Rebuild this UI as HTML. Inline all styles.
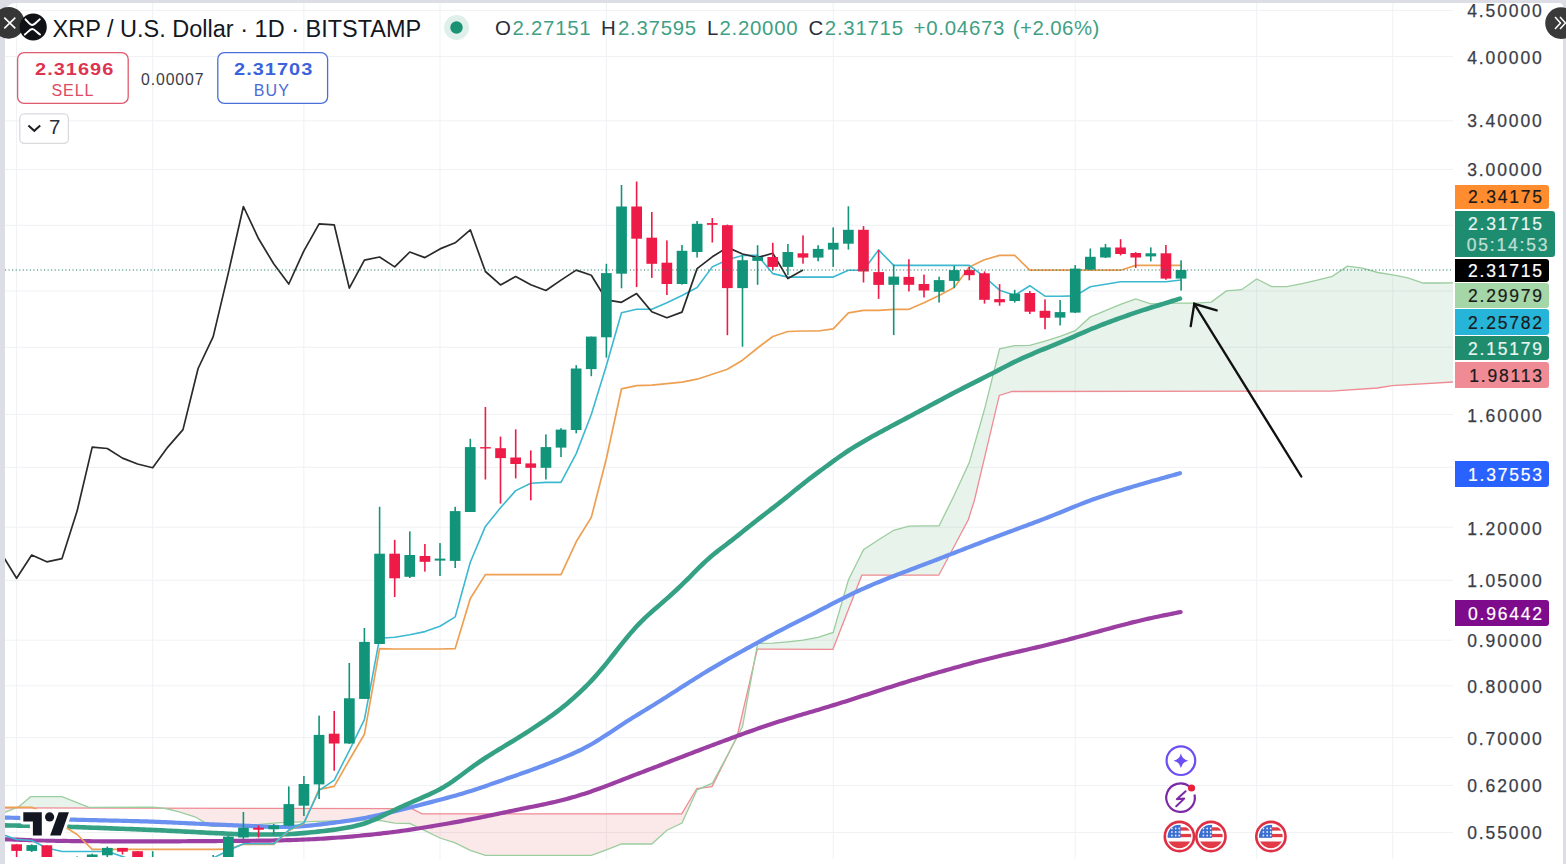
<!DOCTYPE html>
<html><head><meta charset="utf-8"><style>
html,body{margin:0;padding:0}
body{width:1566px;height:864px;overflow:hidden;background:#dddde6;position:relative;font-family:"Liberation Sans",sans-serif}
#panel{position:absolute;left:5px;top:3px;width:1558px;height:861px;background:#fff;border-radius:10px 4px 0 0}
.ax{position:absolute;right:24.2px;width:120px;text-align:right;font-size:17.5px;letter-spacing:1.9px;color:#3b3e47;line-height:20px;margin-right:-1.9px;-webkit-text-stroke:0.25px #3b3e47}
.tag{position:absolute;left:1454.5px;border-radius:0 3px 3px 0}
.tl{position:absolute;right:7px;font-size:17.5px;letter-spacing:1.8px;line-height:20px;margin-right:-1.8px;-webkit-text-stroke:0.2px currentColor}
.t{position:absolute;white-space:pre;line-height:1}
.g{color:#3f9f84}
</style></head><body>
<div id="panel"></div>
<svg width="1566" height="864" style="position:absolute;left:0;top:0">
<defs><clipPath id="cl"><rect x="5" y="3" width="1448" height="854"/></clipPath></defs>
<g stroke="#eff1f4" stroke-width="1"><line x1="5" x2="1453" y1="10.4" y2="10.4"/><line x1="5" x2="1453" y1="56.5" y2="56.5"/><line x1="5" x2="1453" y1="120.8" y2="120.8"/><line x1="5" x2="1453" y1="169.5" y2="169.5"/><line x1="5" x2="1453" y1="225.3" y2="225.3"/><line x1="5" x2="1453" y1="291" y2="291"/><line x1="5" x2="1453" y1="347.3" y2="347.3"/><line x1="5" x2="1453" y1="414.4" y2="414.4"/><line x1="5" x2="1453" y1="467.3" y2="467.3"/><line x1="5" x2="1453" y1="527.2" y2="527.2"/><line x1="5" x2="1453" y1="580.3" y2="580.3"/><line x1="5" x2="1453" y1="640.2" y2="640.2"/><line x1="5" x2="1453" y1="685.8" y2="685.8"/><line x1="5" x2="1453" y1="737.6" y2="737.6"/><line x1="5" x2="1453" y1="785.5" y2="785.5"/><line x1="5" x2="1453" y1="832.5" y2="832.5"/><line x1="16.6" x2="16.6" y1="3" y2="859"/><line x1="152.7" x2="152.7" y1="3" y2="859"/><line x1="303.9" x2="303.9" y1="3" y2="859"/><line x1="440.0" x2="440.0" y1="3" y2="859"/><line x1="606.4" x2="606.4" y1="3" y2="859"/><line x1="833.2" x2="833.2" y1="3" y2="859"/><line x1="1075.2" x2="1075.2" y1="3" y2="859"/><line x1="1256.7" x2="1256.7" y1="3" y2="859"/><line x1="1392.8" x2="1392.8" y1="3" y2="859"/></g>
<g clip-path="url(#cl)">
<polygon points="0.0,812.4 4.6,812.4 16.1,807.8 16.1,807.8 4.6,807.8 0.0,807.8" fill="rgba(225,70,70,0.12)"/>
<polygon points="16.1,807.8 18.5,806.9 30.6,796.7 62.0,796.7 88.9,807.3 152.8,807.2 161.7,808.1 161.7,808.1 152.8,808.1 88.9,808.0 62.0,807.9 30.6,807.9 18.5,807.8 16.1,807.8" fill="rgba(67,160,90,0.12)"/>
<polygon points="161.7,808.1 165.5,808.5 178.3,811.7 194.9,816.8 203.9,821.9 211.5,826.4 240.0,826.0 280.5,822.6 340.0,820.7 379.6,820.4 394.7,823.1 409.8,823.5 411.7,824.4 422.0,829.3 424.9,830.6 440.0,838.0 455.2,842.9 470.3,850.4 485.4,855.4 500.5,855.4 515.7,855.4 530.8,855.4 545.9,855.4 561.0,855.4 576.1,855.4 591.3,855.4 606.4,849.8 621.5,844.0 636.6,844.0 651.8,844.0 666.9,830.2 681.7,823.3 682.0,823.2 696.8,790.5 697.1,789.8 701.5,787.9 701.5,787.9 697.1,788.5 696.8,788.5 682.0,813.3 681.7,813.8 666.9,813.8 651.8,813.8 636.6,813.8 621.5,813.8 606.4,813.8 591.3,813.8 576.1,813.8 561.0,813.8 545.9,813.8 530.8,813.8 515.7,813.8 500.5,813.8 485.4,813.8 470.3,813.8 455.2,813.8 440.0,813.8 424.9,813.8 422.0,813.8 411.7,808.6 409.8,808.6 394.7,808.6 379.6,808.5 340.0,808.5 280.5,808.3 240.0,808.3 211.5,808.2 203.9,808.2 194.9,808.2 178.3,808.1 165.5,808.1 161.7,808.1" fill="rgba(225,70,70,0.12)"/>
<polygon points="701.5,787.9 712.0,783.3 712.3,783.2 727.4,755.3 732.3,746.1 732.3,746.1 727.4,755.9 712.3,786.1 712.0,786.6 701.5,787.9" fill="rgba(67,160,90,0.12)"/>
<polygon points="732.3,746.1 737.1,737.1 742.5,726.9 753.9,663.7 753.9,663.7 742.5,713.2 737.1,736.5 732.3,746.1" fill="rgba(225,70,70,0.12)"/>
<polygon points="753.9,663.7 757.3,645.2 757.6,643.4 772.8,643.1 787.9,641.8 803.0,640.2 818.1,637.4 832.9,632.5 833.2,632.4 848.4,580.0 861.8,553.1 863.5,549.7 878.6,539.8 893.7,530.3 908.9,526.2 924.0,525.8 938.8,525.8 939.1,525.8 954.2,495.2 968.3,464.9 969.4,462.6 974.5,444.4 984.5,409.3 999.3,350.1 999.6,348.9 1012.2,346.1 1014.7,345.6 1029.8,345.4 1045.0,341.2 1060.1,336.4 1075.2,330.7 1090.3,316.9 1105.5,310.6 1120.6,304.3 1135.7,299.0 1150.8,303.8 1166.0,303.3 1181.1,303.1 1196.2,303.1 1211.3,302.1 1226.4,290.9 1241.6,289.7 1256.7,278.9 1271.8,286.7 1286.9,286.7 1302.0,283.7 1317.2,280.2 1331.1,276.6 1332.3,276.3 1347.4,266.1 1362.5,268.2 1377.4,272.4 1377.7,272.5 1392.2,274.8 1392.8,274.9 1407.9,277.9 1423.0,283.0 1438.2,283.0 1453.3,282.8 1468.4,278.4 1470.0,278.3 1470.0,381.0 1468.4,381.1 1453.3,382.0 1438.2,382.9 1423.0,383.8 1407.9,384.7 1392.8,385.6 1392.2,385.6 1377.7,388.0 1377.4,388.0 1362.5,389.0 1347.4,390.0 1332.3,391.0 1331.1,391.1 1317.2,391.1 1302.0,391.1 1286.9,391.2 1271.8,391.2 1256.7,391.2 1241.6,391.2 1226.4,391.2 1211.3,391.3 1196.2,391.3 1181.1,391.3 1166.0,391.3 1150.8,391.3 1135.7,391.3 1120.6,391.4 1105.5,391.4 1090.3,391.4 1075.2,391.4 1060.1,391.4 1045.0,391.5 1029.8,391.5 1014.7,391.5 1012.2,391.5 999.6,395.3 999.3,395.4 984.5,457.9 974.5,500.0 969.4,516.4 968.3,519.7 954.2,546.2 939.1,574.6 938.8,575.2 924.0,575.2 908.9,575.2 893.7,575.2 878.6,575.2 863.5,575.2 861.8,575.2 848.4,609.6 833.2,648.4 832.9,649.3 818.1,649.3 803.0,649.3 787.9,649.2 772.8,649.2 757.6,649.2 757.3,649.2 753.9,663.7" fill="rgba(67,160,90,0.12)"/>

<polyline points="0.0,807.8 411.7,808.6 422.0,813.8 681.7,813.8 696.8,788.5 712.0,786.6 737.1,736.5 757.3,649.2 832.9,649.3 861.8,575.2 938.8,575.2 968.3,519.7 974.5,500.0 999.3,395.4 1012.2,391.5 1331.1,391.1 1377.4,388.0 1392.2,385.6 1470.0,381.0" fill="none" stroke="#ef8b94" stroke-width="1.3"/>
<polyline points="4.6,812.4 18.5,806.9 30.6,796.7 62.0,796.7 88.9,807.3 152.8,807.2 165.5,808.5 178.3,811.7 194.9,816.8 203.9,821.9 211.5,826.4 240.0,826.0 280.5,822.6 340.0,820.7 379.6,820.4 394.7,823.1 409.8,823.5 424.9,830.6 440.0,838.0 455.2,842.9 470.3,850.4 485.4,855.4 500.5,855.4 515.7,855.4 530.8,855.4 545.9,855.4 561.0,855.4 576.2,855.4 591.3,855.4 606.4,849.8 621.5,844.0 636.6,844.0 651.8,844.0 666.9,830.2 682.0,823.1 697.1,789.8 712.3,783.2 727.4,755.3 742.5,726.9 757.6,643.4 772.8,643.1 787.9,641.8 803.0,640.2 818.1,637.4 833.2,632.4 848.4,580.0 863.5,549.7 878.6,539.8 893.7,530.3 908.9,526.2 924.0,525.8 939.1,525.8 954.2,495.2 969.3,462.6 984.5,409.3 999.6,348.9 1014.7,345.6 1029.8,345.4 1045.0,341.2 1060.1,336.4 1075.2,330.7 1090.3,316.9 1105.5,310.7 1120.6,304.3 1135.7,299.0 1150.8,303.8 1165.9,303.3 1181.1,303.1 1196.2,303.1 1211.3,302.1 1226.4,290.9 1241.6,289.7 1256.7,278.9 1271.8,286.7 1286.9,286.7 1302.1,283.7 1317.2,280.2 1332.3,276.3 1347.4,266.1 1362.5,268.2 1377.7,272.5 1392.8,274.9 1407.9,277.9 1423.0,283.0 1438.2,283.0 1453.3,282.8 1468.4,278.4 1483.5,277.2 1498.7,275.9 1513.8,273.5 1528.9,273.5 1544.0,273.5 1559.1,272.6" fill="none" stroke="#9bcd9e" stroke-width="1.3"/>
<path d="M5.6,839.30 L8.6,839.40 L11.6,839.50 L14.6,839.59 L17.6,839.69 L20.6,839.79 L23.6,839.88 L26.6,839.98 L29.6,840.07 L32.6,840.16 L35.6,840.25 L38.6,840.34 L41.6,840.42 L44.6,840.50 L47.6,840.58 L50.6,840.65 L53.6,840.72 L56.6,840.78 L59.6,840.84 L62.6,840.90 L65.6,840.95 L68.6,840.99 L71.6,841.03 L74.6,841.07 L77.6,841.10 L80.6,841.13 L83.6,841.16 L86.6,841.18 L89.6,841.21 L92.6,841.23 L95.6,841.24 L98.6,841.26 L101.6,841.28 L104.6,841.29 L107.6,841.31 L110.6,841.32 L113.6,841.33 L116.6,841.34 L119.6,841.35 L122.6,841.36 L125.6,841.37 L128.6,841.38 L131.6,841.39 L134.6,841.40 L137.6,841.40 L140.6,841.40 L143.6,841.40 L146.6,841.40 L149.6,841.40 L152.6,841.39 L155.6,841.39 L158.6,841.38 L161.6,841.37 L164.6,841.36 L167.6,841.34 L170.6,841.33 L173.6,841.31 L176.6,841.30 L179.6,841.28 L182.6,841.26 L185.6,841.24 L188.6,841.22 L191.6,841.20 L194.6,841.18 L197.6,841.16 L200.6,841.14 L203.6,841.12 L206.6,841.10 L209.6,841.07 L212.6,841.05 L215.6,841.03 L218.6,841.01 L221.6,840.99 L224.6,840.97 L227.6,840.95 L230.6,840.92 L233.6,840.90 L236.6,840.88 L239.6,840.86 L242.6,840.83 L245.6,840.81 L248.6,840.78 L251.6,840.76 L254.6,840.73 L257.6,840.70 L260.6,840.67 L263.6,840.63 L266.6,840.60 L269.6,840.55 L272.6,840.50 L275.6,840.45 L278.6,840.39 L281.6,840.33 L284.6,840.25 L287.6,840.17 L290.6,840.08 L293.6,839.99 L296.6,839.88 L299.6,839.77 L302.6,839.65 L305.6,839.51 L308.6,839.38 L311.6,839.23 L314.6,839.07 L317.6,838.91 L320.6,838.73 L323.6,838.55 L326.6,838.36 L329.6,838.16 L332.6,837.96 L335.6,837.74 L338.6,837.52 L341.6,837.29 L344.6,837.05 L347.6,836.81 L350.6,836.55 L353.6,836.29 L356.6,836.02 L359.6,835.74 L362.6,835.46 L365.6,835.16 L368.6,834.86 L371.6,834.55 L374.6,834.22 L377.6,833.89 L380.6,833.55 L383.6,833.20 L386.6,832.84 L389.6,832.48 L392.6,832.10 L395.6,831.71 L398.6,831.31 L401.6,830.90 L404.6,830.48 L407.6,830.06 L410.6,829.62 L413.6,829.17 L416.6,828.71 L419.6,828.25 L422.6,827.77 L425.6,827.29 L428.6,826.80 L431.6,826.31 L434.6,825.80 L437.6,825.30 L440.6,824.79 L443.6,824.27 L446.6,823.75 L449.6,823.22 L452.6,822.69 L455.6,822.15 L458.6,821.61 L461.6,821.06 L464.6,820.50 L467.6,819.93 L470.6,819.36 L473.6,818.78 L476.6,818.19 L479.6,817.59 L482.6,816.99 L485.6,816.37 L488.6,815.75 L491.6,815.13 L494.6,814.50 L497.6,813.87 L500.6,813.24 L503.6,812.60 L506.6,811.97 L509.6,811.35 L512.6,810.72 L515.6,810.10 L518.6,809.48 L521.6,808.87 L524.6,808.26 L527.6,807.66 L530.6,807.05 L533.6,806.44 L536.6,805.83 L539.6,805.21 L542.6,804.59 L545.6,803.95 L548.6,803.30 L551.6,802.63 L554.6,801.94 L557.6,801.23 L560.6,800.49 L563.6,799.73 L566.6,798.95 L569.6,798.13 L572.6,797.29 L575.6,796.42 L578.6,795.52 L581.6,794.59 L584.6,793.63 L587.6,792.65 L590.6,791.64 L593.6,790.60 L596.6,789.54 L599.6,788.46 L602.6,787.35 L605.6,786.24 L608.6,785.10 L611.6,783.96 L614.6,782.80 L617.6,781.64 L620.6,780.48 L623.6,779.31 L626.6,778.14 L629.6,776.98 L632.6,775.82 L635.6,774.66 L638.6,773.50 L641.6,772.35 L644.6,771.19 L647.6,770.04 L650.6,768.89 L653.6,767.74 L656.6,766.59 L659.6,765.44 L662.6,764.28 L665.6,763.13 L668.6,761.97 L671.6,760.81 L674.6,759.65 L677.6,758.50 L680.6,757.34 L683.6,756.18 L686.6,755.02 L689.6,753.87 L692.6,752.72 L695.6,751.57 L698.6,750.43 L701.6,749.29 L704.6,748.15 L707.6,747.02 L710.6,745.89 L713.6,744.76 L716.6,743.64 L719.6,742.51 L722.6,741.39 L725.6,740.27 L728.6,739.16 L731.6,738.05 L734.6,736.94 L737.6,735.83 L740.6,734.74 L743.6,733.65 L746.6,732.56 L749.6,731.49 L752.6,730.42 L755.6,729.36 L758.6,728.32 L761.6,727.28 L764.6,726.26 L767.6,725.25 L770.6,724.26 L773.6,723.27 L776.6,722.30 L779.6,721.35 L782.6,720.40 L785.6,719.47 L788.6,718.55 L791.6,717.64 L794.6,716.73 L797.6,715.84 L800.6,714.95 L803.6,714.06 L806.6,713.18 L809.6,712.29 L812.6,711.41 L815.6,710.53 L818.6,709.64 L821.6,708.75 L824.6,707.85 L827.6,706.95 L830.6,706.04 L833.6,705.13 L836.6,704.20 L839.6,703.27 L842.6,702.33 L845.6,701.39 L848.6,700.44 L851.6,699.48 L854.6,698.52 L857.6,697.55 L860.6,696.58 L863.6,695.60 L866.6,694.63 L869.6,693.65 L872.6,692.67 L875.6,691.70 L878.6,690.73 L881.6,689.76 L884.6,688.79 L887.6,687.83 L890.6,686.88 L893.6,685.93 L896.6,684.99 L899.6,684.05 L902.6,683.12 L905.6,682.19 L908.6,681.27 L911.6,680.36 L914.6,679.45 L917.6,678.54 L920.6,677.65 L923.6,676.75 L926.6,675.86 L929.6,674.98 L932.6,674.10 L935.6,673.22 L938.6,672.35 L941.6,671.49 L944.6,670.63 L947.6,669.77 L950.6,668.92 L953.6,668.07 L956.6,667.23 L959.6,666.40 L962.6,665.57 L965.6,664.75 L968.6,663.93 L971.6,663.13 L974.6,662.32 L977.6,661.53 L980.6,660.75 L983.6,659.98 L986.6,659.21 L989.6,658.46 L992.6,657.71 L995.6,656.97 L998.6,656.25 L1001.6,655.53 L1004.6,654.82 L1007.6,654.12 L1010.6,653.42 L1013.6,652.72 L1016.6,652.03 L1019.6,651.34 L1022.6,650.65 L1025.6,649.96 L1028.6,649.27 L1031.6,648.57 L1034.6,647.87 L1037.6,647.16 L1040.6,646.44 L1043.6,645.72 L1046.6,644.99 L1049.6,644.25 L1052.6,643.50 L1055.6,642.75 L1058.6,641.99 L1061.6,641.23 L1064.6,640.45 L1067.6,639.68 L1070.6,638.90 L1073.6,638.11 L1076.6,637.32 L1079.6,636.52 L1082.6,635.72 L1085.6,634.92 L1088.6,634.11 L1091.6,633.30 L1094.6,632.49 L1097.6,631.67 L1100.6,630.86 L1103.6,630.04 L1106.6,629.23 L1109.6,628.42 L1112.6,627.61 L1115.6,626.80 L1118.6,626.01 L1121.6,625.22 L1124.6,624.43 L1127.6,623.66 L1130.6,622.91 L1133.6,622.16 L1136.6,621.43 L1139.6,620.71 L1142.6,620.00 L1145.6,619.31 L1148.6,618.64 L1151.6,617.97 L1154.6,617.32 L1157.6,616.68 L1160.6,616.05 L1163.6,615.43 L1166.6,614.82 L1169.6,614.21 L1172.6,613.61 L1175.6,613.01 L1178.6,612.42 L1180.6,612.02" fill="none" stroke="#9c3fa2" stroke-width="4.2" stroke-linecap="round" stroke-linejoin="round"/>
<path d="M0.0,817.40 L3.0,817.49 L6.0,817.58 L9.0,817.67 L12.0,817.76 L15.0,817.85 L18.0,817.94 L21.0,818.04 L24.0,818.13 L27.0,818.23 L30.0,818.32 L33.0,818.42 L36.0,818.51 L39.0,818.61 L42.0,818.71 L45.0,818.80 L48.0,818.90 L51.0,819.00 L54.0,819.09 L57.0,819.19 L60.0,819.28 L63.0,819.37 L66.0,819.45 L69.0,819.54 L72.0,819.62 L75.0,819.70 L78.0,819.78 L81.0,819.86 L84.0,819.93 L87.0,820.00 L90.0,820.07 L93.0,820.14 L96.0,820.21 L99.0,820.28 L102.0,820.35 L105.0,820.42 L108.0,820.49 L111.0,820.56 L114.0,820.63 L117.0,820.70 L120.0,820.77 L123.0,820.84 L126.0,820.91 L129.0,820.98 L132.0,821.05 L135.0,821.13 L138.0,821.21 L141.0,821.29 L144.0,821.38 L147.0,821.47 L150.0,821.57 L153.0,821.68 L156.0,821.79 L159.0,821.91 L162.0,822.04 L165.0,822.17 L168.0,822.31 L171.0,822.44 L174.0,822.59 L177.0,822.73 L180.0,822.87 L183.0,823.02 L186.0,823.16 L189.0,823.31 L192.0,823.45 L195.0,823.60 L198.0,823.74 L201.0,823.88 L204.0,824.02 L207.0,824.16 L210.0,824.30 L213.0,824.43 L216.0,824.56 L219.0,824.69 L222.0,824.82 L225.0,824.94 L228.0,825.07 L231.0,825.19 L234.0,825.31 L237.0,825.44 L240.0,825.56 L243.0,825.68 L246.0,825.81 L249.0,825.93 L252.0,826.06 L255.0,826.18 L258.0,826.31 L261.0,826.43 L264.0,826.55 L267.0,826.66 L270.0,826.76 L273.0,826.85 L276.0,826.93 L279.0,826.98 L282.0,827.00 L285.0,826.99 L288.0,826.95 L291.0,826.87 L294.0,826.75 L297.0,826.59 L300.0,826.39 L303.0,826.16 L306.0,825.90 L309.0,825.62 L312.0,825.31 L315.0,824.99 L318.0,824.65 L321.0,824.30 L324.0,823.94 L327.0,823.57 L330.0,823.20 L333.0,822.82 L336.0,822.43 L339.0,822.03 L342.0,821.62 L345.0,821.20 L348.0,820.77 L351.0,820.31 L354.0,819.84 L357.0,819.34 L360.0,818.83 L363.0,818.28 L366.0,817.71 L369.0,817.12 L372.0,816.50 L375.0,815.86 L378.0,815.20 L381.0,814.52 L384.0,813.82 L387.0,813.11 L390.0,812.38 L393.0,811.65 L396.0,810.92 L399.0,810.17 L402.0,809.43 L405.0,808.68 L408.0,807.94 L411.0,807.19 L414.0,806.43 L417.0,805.68 L420.0,804.92 L423.0,804.16 L426.0,803.40 L429.0,802.63 L432.0,801.86 L435.0,801.08 L438.0,800.29 L441.0,799.50 L444.0,798.70 L447.0,797.89 L450.0,797.07 L453.0,796.24 L456.0,795.40 L459.0,794.53 L462.0,793.65 L465.0,792.75 L468.0,791.83 L471.0,790.88 L474.0,789.92 L477.0,788.93 L480.0,787.93 L483.0,786.92 L486.0,785.90 L489.0,784.86 L492.0,783.83 L495.0,782.78 L498.0,781.74 L501.0,780.69 L504.0,779.64 L507.0,778.59 L510.0,777.54 L513.0,776.49 L516.0,775.44 L519.0,774.39 L522.0,773.33 L525.0,772.27 L528.0,771.20 L531.0,770.12 L534.0,769.03 L537.0,767.94 L540.0,766.82 L543.0,765.70 L546.0,764.56 L549.0,763.40 L552.0,762.23 L555.0,761.05 L558.0,759.85 L561.0,758.63 L564.0,757.40 L567.0,756.14 L570.0,754.85 L573.0,753.53 L576.0,752.16 L579.0,750.75 L582.0,749.27 L585.0,747.74 L588.0,746.14 L591.0,744.46 L594.0,742.71 L597.0,740.90 L600.0,739.02 L603.0,737.09 L606.0,735.12 L609.0,733.13 L612.0,731.13 L615.0,729.13 L618.0,727.15 L621.0,725.19 L624.0,723.25 L627.0,721.34 L630.0,719.46 L633.0,717.59 L636.0,715.75 L639.0,713.91 L642.0,712.07 L645.0,710.24 L648.0,708.40 L651.0,706.55 L654.0,704.70 L657.0,702.83 L660.0,700.95 L663.0,699.06 L666.0,697.16 L669.0,695.25 L672.0,693.33 L675.0,691.40 L678.0,689.48 L681.0,687.55 L684.0,685.63 L687.0,683.71 L690.0,681.81 L693.0,679.91 L696.0,678.03 L699.0,676.16 L702.0,674.31 L705.0,672.47 L708.0,670.66 L711.0,668.86 L714.0,667.08 L717.0,665.33 L720.0,663.59 L723.0,661.86 L726.0,660.15 L729.0,658.45 L732.0,656.77 L735.0,655.09 L738.0,653.42 L741.0,651.76 L744.0,650.10 L747.0,648.44 L750.0,646.79 L753.0,645.14 L756.0,643.49 L759.0,641.85 L762.0,640.21 L765.0,638.58 L768.0,636.96 L771.0,635.35 L774.0,633.76 L777.0,632.17 L780.0,630.60 L783.0,629.04 L786.0,627.50 L789.0,625.97 L792.0,624.45 L795.0,622.93 L798.0,621.42 L801.0,619.91 L804.0,618.39 L807.0,616.87 L810.0,615.35 L813.0,613.82 L816.0,612.28 L819.0,610.73 L822.0,609.17 L825.0,607.60 L828.0,606.03 L831.0,604.46 L834.0,602.90 L837.0,601.34 L840.0,599.80 L843.0,598.28 L846.0,596.77 L849.0,595.29 L852.0,593.84 L855.0,592.42 L858.0,591.02 L861.0,589.65 L864.0,588.31 L867.0,586.99 L870.0,585.70 L873.0,584.42 L876.0,583.17 L879.0,581.94 L882.0,580.72 L885.0,579.51 L888.0,578.32 L891.0,577.13 L894.0,575.96 L897.0,574.79 L900.0,573.64 L903.0,572.48 L906.0,571.34 L909.0,570.19 L912.0,569.05 L915.0,567.92 L918.0,566.79 L921.0,565.65 L924.0,564.52 L927.0,563.39 L930.0,562.25 L933.0,561.11 L936.0,559.96 L939.0,558.81 L942.0,557.66 L945.0,556.50 L948.0,555.33 L951.0,554.16 L954.0,552.99 L957.0,551.82 L960.0,550.65 L963.0,549.48 L966.0,548.31 L969.0,547.15 L972.0,545.99 L975.0,544.83 L978.0,543.67 L981.0,542.52 L984.0,541.37 L987.0,540.22 L990.0,539.08 L993.0,537.94 L996.0,536.81 L999.0,535.68 L1002.0,534.56 L1005.0,533.44 L1008.0,532.33 L1011.0,531.22 L1014.0,530.11 L1017.0,529.00 L1020.0,527.90 L1023.0,526.80 L1026.0,525.69 L1029.0,524.58 L1032.0,523.46 L1035.0,522.34 L1038.0,521.21 L1041.0,520.06 L1044.0,518.91 L1047.0,517.74 L1050.0,516.55 L1053.0,515.36 L1056.0,514.15 L1059.0,512.94 L1062.0,511.72 L1065.0,510.49 L1068.0,509.26 L1071.0,508.03 L1074.0,506.81 L1077.0,505.60 L1080.0,504.40 L1083.0,503.22 L1086.0,502.06 L1089.0,500.93 L1092.0,499.82 L1095.0,498.74 L1098.0,497.69 L1101.0,496.66 L1104.0,495.66 L1107.0,494.67 L1110.0,493.71 L1113.0,492.75 L1116.0,491.81 L1119.0,490.88 L1122.0,489.95 L1125.0,489.03 L1128.0,488.12 L1131.0,487.22 L1134.0,486.32 L1137.0,485.43 L1140.0,484.55 L1143.0,483.68 L1146.0,482.81 L1149.0,481.95 L1152.0,481.10 L1155.0,480.25 L1158.0,479.40 L1161.0,478.56 L1164.0,477.72 L1167.0,476.89 L1170.0,476.05 L1173.0,475.22 L1176.0,474.38 L1179.0,473.55 L1180.0,473.27" fill="none" stroke="#6a90f0" stroke-width="4.2" stroke-linecap="round" stroke-linejoin="round"/>
<path d="M0.0,825.30 L3.0,825.35 L6.0,825.40 L9.0,825.45 L12.0,825.50 L15.0,825.56 L18.0,825.61 L21.0,825.66 L24.0,825.72 L27.0,825.78 L30.0,825.84 L33.0,825.90 L36.0,825.97 L39.0,826.04 L42.0,826.12 L45.0,826.19 L48.0,826.27 L51.0,826.34 L54.0,826.42 L57.0,826.50 L60.0,826.58 L63.0,826.66 L66.0,826.75 L69.0,826.84 L72.0,826.93 L75.0,827.03 L78.0,827.14 L81.0,827.25 L84.0,827.36 L87.0,827.47 L90.0,827.58 L93.0,827.69 L96.0,827.80 L99.0,827.92 L102.0,828.03 L105.0,828.14 L108.0,828.25 L111.0,828.36 L114.0,828.48 L117.0,828.59 L120.0,828.70 L123.0,828.81 L126.0,828.93 L129.0,829.04 L132.0,829.15 L135.0,829.26 L138.0,829.38 L141.0,829.49 L144.0,829.61 L147.0,829.73 L150.0,829.86 L153.0,829.99 L156.0,830.13 L159.0,830.27 L162.0,830.41 L165.0,830.56 L168.0,830.71 L171.0,830.86 L174.0,831.01 L177.0,831.16 L180.0,831.32 L183.0,831.47 L186.0,831.62 L189.0,831.77 L192.0,831.92 L195.0,832.07 L198.0,832.23 L201.0,832.38 L204.0,832.53 L207.0,832.68 L210.0,832.83 L213.0,832.98 L216.0,833.13 L219.0,833.28 L222.0,833.42 L225.0,833.57 L228.0,833.71 L231.0,833.85 L234.0,833.98 L237.0,834.10 L240.0,834.21 L243.0,834.29 L246.0,834.36 L249.0,834.41 L252.0,834.44 L255.0,834.45 L258.0,834.46 L261.0,834.46 L264.0,834.45 L267.0,834.45 L270.0,834.44 L273.0,834.43 L276.0,834.41 L279.0,834.38 L282.0,834.33 L285.0,834.26 L288.0,834.16 L291.0,834.02 L294.0,833.85 L297.0,833.64 L300.0,833.41 L303.0,833.15 L306.0,832.87 L309.0,832.58 L312.0,832.28 L315.0,831.97 L318.0,831.66 L321.0,831.33 L324.0,830.99 L327.0,830.63 L330.0,830.25 L333.0,829.86 L336.0,829.44 L339.0,829.00 L342.0,828.53 L345.0,828.03 L348.0,827.50 L351.0,826.92 L354.0,826.29 L357.0,825.59 L360.0,824.82 L363.0,823.95 L366.0,822.97 L369.0,821.89 L372.0,820.71 L375.0,819.42 L378.0,818.05 L381.0,816.62 L384.0,815.16 L387.0,813.68 L390.0,812.20 L393.0,810.74 L396.0,809.31 L399.0,807.90 L402.0,806.52 L405.0,805.16 L408.0,803.81 L411.0,802.48 L414.0,801.17 L417.0,799.85 L420.0,798.54 L423.0,797.23 L426.0,795.90 L429.0,794.55 L432.0,793.15 L435.0,791.71 L438.0,790.20 L441.0,788.60 L444.0,786.90 L447.0,785.08 L450.0,783.14 L453.0,781.09 L456.0,778.94 L459.0,776.73 L462.0,774.49 L465.0,772.24 L468.0,770.01 L471.0,767.81 L474.0,765.66 L477.0,763.55 L480.0,761.49 L483.0,759.47 L486.0,757.50 L489.0,755.57 L492.0,753.69 L495.0,751.83 L498.0,749.99 L501.0,748.17 L504.0,746.36 L507.0,744.55 L510.0,742.74 L513.0,740.92 L516.0,739.09 L519.0,737.25 L522.0,735.38 L525.0,733.49 L528.0,731.57 L531.0,729.63 L534.0,727.67 L537.0,725.69 L540.0,723.67 L543.0,721.64 L546.0,719.57 L549.0,717.47 L552.0,715.32 L555.0,713.12 L558.0,710.86 L561.0,708.53 L564.0,706.13 L567.0,703.65 L570.0,701.10 L573.0,698.49 L576.0,695.80 L579.0,693.03 L582.0,690.19 L585.0,687.26 L588.0,684.25 L591.0,681.13 L594.0,677.91 L597.0,674.56 L600.0,671.10 L603.0,667.52 L606.0,663.85 L609.0,660.10 L612.0,656.30 L615.0,652.48 L618.0,648.66 L621.0,644.86 L624.0,641.11 L627.0,637.44 L630.0,633.85 L633.0,630.38 L636.0,627.04 L639.0,623.84 L642.0,620.80 L645.0,617.90 L648.0,615.13 L651.0,612.45 L654.0,609.83 L657.0,607.23 L660.0,604.63 L663.0,602.02 L666.0,599.38 L669.0,596.71 L672.0,594.00 L675.0,591.25 L678.0,588.46 L681.0,585.61 L684.0,582.71 L687.0,579.76 L690.0,576.76 L693.0,573.73 L696.0,570.70 L699.0,567.70 L702.0,564.76 L705.0,561.91 L708.0,559.17 L711.0,556.55 L714.0,554.05 L717.0,551.64 L720.0,549.30 L723.0,547.00 L726.0,544.71 L729.0,542.40 L732.0,540.07 L735.0,537.71 L738.0,535.33 L741.0,532.94 L744.0,530.53 L747.0,528.13 L750.0,525.74 L753.0,523.37 L756.0,521.02 L759.0,518.69 L762.0,516.36 L765.0,514.05 L768.0,511.73 L771.0,509.40 L774.0,507.07 L777.0,504.72 L780.0,502.36 L783.0,499.98 L786.0,497.59 L789.0,495.18 L792.0,492.76 L795.0,490.33 L798.0,487.91 L801.0,485.50 L804.0,483.11 L807.0,480.75 L810.0,478.44 L813.0,476.16 L816.0,473.91 L819.0,471.69 L822.0,469.48 L825.0,467.27 L828.0,465.07 L831.0,462.87 L834.0,460.68 L837.0,458.51 L840.0,456.37 L843.0,454.29 L846.0,452.25 L849.0,450.28 L852.0,448.37 L855.0,446.50 L858.0,444.68 L861.0,442.90 L864.0,441.15 L867.0,439.42 L870.0,437.73 L873.0,436.06 L876.0,434.41 L879.0,432.78 L882.0,431.16 L885.0,429.55 L888.0,427.95 L891.0,426.34 L894.0,424.74 L897.0,423.15 L900.0,421.55 L903.0,419.96 L906.0,418.36 L909.0,416.77 L912.0,415.17 L915.0,413.57 L918.0,411.98 L921.0,410.38 L924.0,408.78 L927.0,407.18 L930.0,405.58 L933.0,403.97 L936.0,402.37 L939.0,400.77 L942.0,399.17 L945.0,397.57 L948.0,395.97 L951.0,394.39 L954.0,392.81 L957.0,391.25 L960.0,389.69 L963.0,388.16 L966.0,386.63 L969.0,385.11 L972.0,383.60 L975.0,382.10 L978.0,380.59 L981.0,379.08 L984.0,377.57 L987.0,376.05 L990.0,374.52 L993.0,372.99 L996.0,371.44 L999.0,369.88 L1002.0,368.32 L1005.0,366.75 L1008.0,365.20 L1011.0,363.67 L1014.0,362.17 L1017.0,360.71 L1020.0,359.30 L1023.0,357.93 L1026.0,356.60 L1029.0,355.29 L1032.0,354.01 L1035.0,352.74 L1038.0,351.48 L1041.0,350.23 L1044.0,349.00 L1047.0,347.77 L1050.0,346.55 L1053.0,345.34 L1056.0,344.12 L1059.0,342.89 L1062.0,341.65 L1065.0,340.40 L1068.0,339.13 L1071.0,337.84 L1074.0,336.53 L1077.0,335.21 L1080.0,333.89 L1083.0,332.58 L1086.0,331.28 L1089.0,330.00 L1092.0,328.74 L1095.0,327.52 L1098.0,326.32 L1101.0,325.15 L1104.0,323.99 L1107.0,322.86 L1110.0,321.73 L1113.0,320.62 L1116.0,319.52 L1119.0,318.43 L1122.0,317.36 L1125.0,316.30 L1128.0,315.24 L1131.0,314.20 L1134.0,313.17 L1137.0,312.15 L1140.0,311.15 L1143.0,310.16 L1146.0,309.19 L1149.0,308.24 L1152.0,307.31 L1155.0,306.38 L1158.0,305.46 L1161.0,304.54 L1164.0,303.62 L1167.0,302.69 L1170.0,301.76 L1173.0,300.81 L1176.0,299.86 L1179.0,298.91 L1180.0,298.59" fill="none" stroke="#34a084" stroke-width="4.6" stroke-linecap="round" stroke-linejoin="round"/>
<polyline points="1.5,807.3 16.6,807.3 31.7,807.3 46.8,814.0 62.0,825.0 77.1,834.5 92.2,849.4 107.3,849.4 122.5,849.4 137.6,849.4 152.7,849.4 167.8,849.4 183.0,849.4 198.1,849.4 213.2,849.4 228.3,849.2 243.4,844.3 258.6,844.3 273.7,844.3 288.8,830.5 303.9,823.5 319.1,789.3 334.2,786.4 349.3,760.0 364.4,734.3 379.6,648.6 394.7,649.0 409.8,649.0 424.9,649.0 440.0,649.0 455.2,648.6 470.3,598.5 485.4,574.6 500.5,574.6 515.7,574.6 530.8,574.6 545.9,574.6 561.0,574.6 576.2,541.8 591.3,517.4 606.4,458.5 621.5,388.8 636.6,385.6 651.8,385.1 666.9,383.7 682.0,382.1 697.1,379.2 712.3,374.3 727.4,369.3 742.5,360.2 757.6,348.0 772.8,336.5 787.9,331.5 803.0,331.0 818.1,331.0 833.2,328.8 848.4,312.8 863.5,310.3 878.6,310.3 893.7,309.3 908.9,309.3 924.0,302.8 939.1,295.5 954.2,287.5 969.3,266.9 984.5,259.7 999.6,255.4 1014.7,255.4 1029.8,270.2 1045.0,270.2 1060.1,270.2 1075.2,270.2 1090.3,270.2 1105.5,270.2 1120.6,270.2 1135.7,265.4 1150.8,265.4 1165.9,265.4 1181.1,265.4" fill="none" stroke="#eea052" stroke-width="1.7" stroke-linejoin="round"/>
<polyline points="1.5,834.0 16.6,839.5 31.7,840.5 46.8,848.0 62.0,851.5 77.1,851.5 92.2,851.5 107.3,851.5 122.5,856.5 137.6,862.0 152.7,864.0 167.8,864.0 183.0,864.0 198.1,864.0 213.2,858.0 228.3,850.5 243.4,843.8 258.6,843.8 273.7,843.8 288.8,830.0 303.9,822.8 319.1,790.3 334.2,780.1 349.3,750.7 364.4,719.6 379.6,638.2 394.7,637.3 409.8,634.7 424.9,631.6 440.0,626.2 455.2,616.9 470.3,562.3 485.4,526.4 500.5,507.8 515.7,490.6 530.8,483.2 545.9,482.4 561.0,482.4 576.2,453.6 591.3,414.5 606.4,365.6 621.5,312.7 636.6,309.3 651.8,309.3 666.9,302.8 682.0,295.5 697.1,287.5 712.3,266.9 727.4,259.7 742.5,255.4 757.6,255.4 772.8,273.6 787.9,277.1 803.0,277.1 818.1,277.1 833.2,277.1 848.4,270.2 863.5,270.2 878.6,249.9 893.7,265.4 908.9,265.4 924.0,265.4 939.1,265.4 954.2,265.4 969.3,265.4 984.5,276.8 999.6,290.2 1014.7,295.3 1029.8,285.7 1045.0,296.2 1060.1,296.2 1075.2,295.9 1090.3,286.8 1105.5,284.3 1120.6,281.7 1135.7,281.7 1150.8,281.7 1165.9,281.7 1181.1,280.0" fill="none" stroke="#3cb8d0" stroke-width="1.6" stroke-linejoin="round"/>
<polyline points="1.5,553.7 16.6,578.3 31.7,555.0 46.8,561.8 62.0,558.6 77.1,511.1 92.2,447.1 107.3,448.5 122.5,458.1 137.6,464.0 152.7,467.8 167.8,447.1 183.0,429.6 198.1,368.5 213.2,336.6 228.3,273.1 243.4,206.5 258.6,238.8 273.7,263.8 288.8,284.0 303.9,250.8 319.1,223.8 334.2,224.8 349.3,288.1 364.4,260.2 379.6,257.0 394.7,266.9 409.8,252.0 424.9,257.6 440.0,248.9 455.2,242.8 470.3,229.8 485.4,271.5 500.5,284.9 515.7,276.6 530.8,284.8 545.9,290.5 561.0,280.1 576.2,270.1 591.3,275.2 606.4,299.8 621.5,302.3 636.6,293.6 651.8,311.7 666.9,317.8 682.0,312.1 697.1,268.6 712.3,256.8 727.4,247.4 742.5,254.0 757.6,257.5 772.8,253.3 787.9,278.6 803.0,270.0" fill="none" stroke="#2a2a2a" stroke-width="1.7" stroke-linejoin="round"/>
<rect x="15.8" y="844.3" width="1.6" height="17.7" fill="#ee1a48"/><rect x="11.3" y="844.3" width="10.7" height="6.6" fill="#ee1a48"/>
<rect x="30.9" y="844.3" width="1.6" height="7.7" fill="#12947a"/><rect x="26.4" y="845.1" width="10.7" height="5.8" fill="#12947a"/>
<rect x="46.0" y="845.3" width="1.6" height="18.7" fill="#ee1a48"/><rect x="41.5" y="845.3" width="10.7" height="16.7" fill="#ee1a48"/>
<rect x="76.3" y="856.4" width="1.6" height="7.6" fill="#12947a"/><rect x="71.7" y="858.0" width="10.7" height="6.0" fill="#12947a"/>
<rect x="91.4" y="853.7" width="1.6" height="10.3" fill="#12947a"/><rect x="86.9" y="854.5" width="10.7" height="7.5" fill="#12947a"/>
<rect x="106.5" y="846.5" width="1.6" height="10.5" fill="#12947a"/><rect x="102.0" y="847.9" width="10.7" height="7.4" fill="#12947a"/>
<rect x="121.7" y="847.9" width="1.6" height="6.6" fill="#ee1a48"/><rect x="117.1" y="847.9" width="10.7" height="3.8" fill="#ee1a48"/>
<rect x="136.8" y="851.2" width="1.6" height="12.8" fill="#ee1a48"/><rect x="132.2" y="851.2" width="10.7" height="10.8" fill="#ee1a48"/>
<rect x="151.9" y="851.2" width="1.6" height="12.8" fill="#12947a"/><rect x="147.4" y="858.0" width="10.7" height="6.0" fill="#12947a"/>
<rect x="212.4" y="855.0" width="1.6" height="9.0" fill="#12947a"/><rect x="207.8" y="858.0" width="10.7" height="6.0" fill="#12947a"/>
<rect x="227.5" y="836.0" width="1.6" height="28.0" fill="#12947a"/><rect x="223.0" y="836.6" width="10.7" height="25.4" fill="#12947a"/>
<rect x="242.6" y="812.0" width="1.6" height="27.5" fill="#12947a"/><rect x="238.1" y="827.7" width="10.7" height="9.8" fill="#12947a"/>
<rect x="257.8" y="825.4" width="1.6" height="12.1" fill="#ee1a48"/><rect x="253.2" y="827.7" width="10.7" height="2.0" fill="#ee1a48"/>
<rect x="272.9" y="824.0" width="1.6" height="10.6" fill="#12947a"/><rect x="268.3" y="825.4" width="10.7" height="3.9" fill="#12947a"/>
<rect x="288.0" y="786.4" width="1.6" height="39.6" fill="#12947a"/><rect x="283.5" y="804.1" width="10.7" height="21.6" fill="#12947a"/>
<rect x="303.1" y="776.0" width="1.6" height="40.0" fill="#12947a"/><rect x="298.6" y="784.0" width="10.7" height="21.7" fill="#12947a"/>
<rect x="318.3" y="715.6" width="1.6" height="83.4" fill="#12947a"/><rect x="313.7" y="734.9" width="10.7" height="49.5" fill="#12947a"/>
<rect x="333.4" y="711.0" width="1.6" height="59.7" fill="#ee1a48"/><rect x="328.8" y="733.7" width="10.7" height="9.8" fill="#ee1a48"/>
<rect x="348.5" y="663.0" width="1.6" height="81.0" fill="#12947a"/><rect x="344.0" y="698.3" width="10.7" height="45.2" fill="#12947a"/>
<rect x="363.6" y="628.0" width="1.6" height="71.0" fill="#12947a"/><rect x="359.1" y="641.9" width="10.7" height="57.0" fill="#12947a"/>
<rect x="378.8" y="506.8" width="1.6" height="137.2" fill="#12947a"/><rect x="374.2" y="553.7" width="10.7" height="90.3" fill="#12947a"/>
<rect x="393.9" y="539.8" width="1.6" height="57.2" fill="#ee1a48"/><rect x="389.3" y="553.7" width="10.7" height="24.6" fill="#ee1a48"/>
<rect x="409.0" y="531.4" width="1.6" height="46.6" fill="#12947a"/><rect x="404.4" y="555.0" width="10.7" height="21.8" fill="#12947a"/>
<rect x="424.1" y="544.0" width="1.6" height="27.6" fill="#ee1a48"/><rect x="419.6" y="556.0" width="10.7" height="5.8" fill="#ee1a48"/>
<rect x="439.2" y="543.0" width="1.6" height="33.0" fill="#12947a"/><rect x="434.7" y="558.6" width="10.7" height="2.0" fill="#12947a"/>
<rect x="454.4" y="506.8" width="1.6" height="61.2" fill="#12947a"/><rect x="449.8" y="511.1" width="10.7" height="49.8" fill="#12947a"/>
<rect x="469.5" y="438.8" width="1.6" height="73.2" fill="#12947a"/><rect x="464.9" y="447.1" width="10.7" height="64.9" fill="#12947a"/>
<rect x="484.6" y="407.0" width="1.6" height="72.5" fill="#ee1a48"/><rect x="480.1" y="447.1" width="10.7" height="1.4" fill="#ee1a48"/>
<rect x="499.7" y="436.6" width="1.6" height="67.0" fill="#ee1a48"/><rect x="495.2" y="448.2" width="10.7" height="9.9" fill="#ee1a48"/>
<rect x="514.9" y="429.3" width="1.6" height="49.1" fill="#ee1a48"/><rect x="510.3" y="457.5" width="10.7" height="6.5" fill="#ee1a48"/>
<rect x="530.0" y="450.4" width="1.6" height="49.9" fill="#ee1a48"/><rect x="525.4" y="463.4" width="10.7" height="4.4" fill="#ee1a48"/>
<rect x="545.1" y="434.4" width="1.6" height="45.1" fill="#12947a"/><rect x="540.6" y="447.1" width="10.7" height="20.7" fill="#12947a"/>
<rect x="560.2" y="428.2" width="1.6" height="28.8" fill="#12947a"/><rect x="555.7" y="429.6" width="10.7" height="18.0" fill="#12947a"/>
<rect x="575.4" y="365.2" width="1.6" height="68.1" fill="#12947a"/><rect x="570.8" y="368.5" width="10.7" height="61.5" fill="#12947a"/>
<rect x="590.5" y="336.6" width="1.6" height="39.6" fill="#12947a"/><rect x="585.9" y="336.6" width="10.7" height="32.5" fill="#12947a"/>
<rect x="605.6" y="263.8" width="1.6" height="93.8" fill="#12947a"/><rect x="601.0" y="273.1" width="10.7" height="64.2" fill="#12947a"/>
<rect x="620.7" y="185.0" width="1.6" height="103.3" fill="#12947a"/><rect x="616.2" y="206.5" width="10.7" height="67.2" fill="#12947a"/>
<rect x="635.8" y="181.5" width="1.6" height="105.6" fill="#ee1a48"/><rect x="631.3" y="206.5" width="10.7" height="32.2" fill="#ee1a48"/>
<rect x="651.0" y="212.0" width="1.6" height="65.9" fill="#ee1a48"/><rect x="646.4" y="237.7" width="10.7" height="26.1" fill="#ee1a48"/>
<rect x="666.1" y="240.4" width="1.6" height="54.6" fill="#ee1a48"/><rect x="661.5" y="262.7" width="10.7" height="21.3" fill="#ee1a48"/>
<rect x="681.2" y="245.0" width="1.6" height="39.6" fill="#12947a"/><rect x="676.7" y="250.8" width="10.7" height="33.2" fill="#12947a"/>
<rect x="696.3" y="221.0" width="1.6" height="36.5" fill="#12947a"/><rect x="691.8" y="223.8" width="10.7" height="28.2" fill="#12947a"/>
<rect x="711.5" y="218.0" width="1.6" height="24.5" fill="#ee1a48"/><rect x="706.9" y="223.1" width="10.7" height="1.7" fill="#ee1a48"/>
<rect x="726.6" y="224.6" width="1.6" height="110.6" fill="#ee1a48"/><rect x="722.0" y="225.2" width="10.7" height="62.9" fill="#ee1a48"/>
<rect x="741.7" y="255.4" width="1.6" height="91.3" fill="#12947a"/><rect x="737.2" y="260.2" width="10.7" height="27.9" fill="#12947a"/>
<rect x="756.8" y="245.2" width="1.6" height="39.6" fill="#12947a"/><rect x="752.3" y="257.0" width="10.7" height="3.9" fill="#12947a"/>
<rect x="772.0" y="242.8" width="1.6" height="27.8" fill="#ee1a48"/><rect x="767.4" y="257.0" width="10.7" height="9.9" fill="#ee1a48"/>
<rect x="787.1" y="244.0" width="1.6" height="31.2" fill="#12947a"/><rect x="782.5" y="252.0" width="10.7" height="14.9" fill="#12947a"/>
<rect x="802.2" y="235.4" width="1.6" height="28.3" fill="#ee1a48"/><rect x="797.6" y="253.3" width="10.7" height="4.3" fill="#ee1a48"/>
<rect x="817.3" y="245.2" width="1.6" height="16.1" fill="#12947a"/><rect x="812.8" y="248.9" width="10.7" height="8.7" fill="#12947a"/>
<rect x="832.4" y="227.4" width="1.6" height="39.5" fill="#12947a"/><rect x="827.9" y="242.8" width="10.7" height="6.8" fill="#12947a"/>
<rect x="847.6" y="206.3" width="1.6" height="43.3" fill="#12947a"/><rect x="843.0" y="229.8" width="10.7" height="13.9" fill="#12947a"/>
<rect x="862.7" y="226.1" width="1.6" height="56.4" fill="#ee1a48"/><rect x="858.1" y="229.8" width="10.7" height="41.7" fill="#ee1a48"/>
<rect x="877.8" y="250.0" width="1.6" height="48.9" fill="#ee1a48"/><rect x="873.3" y="272.1" width="10.7" height="12.8" fill="#ee1a48"/>
<rect x="892.9" y="264.7" width="1.6" height="70.4" fill="#12947a"/><rect x="888.4" y="276.6" width="10.7" height="8.2" fill="#12947a"/>
<rect x="908.1" y="259.2" width="1.6" height="32.3" fill="#ee1a48"/><rect x="903.5" y="276.9" width="10.7" height="7.9" fill="#ee1a48"/>
<rect x="923.2" y="274.6" width="1.6" height="22.9" fill="#ee1a48"/><rect x="918.6" y="284.0" width="10.7" height="6.5" fill="#ee1a48"/>
<rect x="938.3" y="276.7" width="1.6" height="25.8" fill="#12947a"/><rect x="933.8" y="280.1" width="10.7" height="11.7" fill="#12947a"/>
<rect x="953.4" y="265.6" width="1.6" height="22.3" fill="#12947a"/><rect x="948.9" y="270.1" width="10.7" height="10.8" fill="#12947a"/>
<rect x="968.5" y="266.9" width="1.6" height="13.4" fill="#ee1a48"/><rect x="964.0" y="270.1" width="10.7" height="5.1" fill="#ee1a48"/>
<rect x="983.7" y="271.4" width="1.6" height="32.2" fill="#ee1a48"/><rect x="979.1" y="273.3" width="10.7" height="26.5" fill="#ee1a48"/>
<rect x="998.8" y="284.1" width="1.6" height="21.6" fill="#ee1a48"/><rect x="994.2" y="299.1" width="10.7" height="3.2" fill="#ee1a48"/>
<rect x="1013.9" y="289.8" width="1.6" height="12.8" fill="#12947a"/><rect x="1009.4" y="293.6" width="10.7" height="7.4" fill="#12947a"/>
<rect x="1029.0" y="291.1" width="1.6" height="22.9" fill="#ee1a48"/><rect x="1024.5" y="293.0" width="10.7" height="18.7" fill="#ee1a48"/>
<rect x="1044.2" y="299.4" width="1.6" height="29.9" fill="#ee1a48"/><rect x="1039.6" y="310.8" width="10.7" height="7.0" fill="#ee1a48"/>
<rect x="1059.3" y="300.0" width="1.6" height="25.5" fill="#12947a"/><rect x="1054.7" y="312.1" width="10.7" height="5.5" fill="#12947a"/>
<rect x="1074.4" y="265.1" width="1.6" height="47.9" fill="#12947a"/><rect x="1069.9" y="268.6" width="10.7" height="44.0" fill="#12947a"/>
<rect x="1089.5" y="248.5" width="1.6" height="21.5" fill="#12947a"/><rect x="1085.0" y="256.8" width="10.7" height="12.8" fill="#12947a"/>
<rect x="1104.7" y="243.9" width="1.6" height="14.1" fill="#12947a"/><rect x="1100.1" y="247.4" width="10.7" height="10.1" fill="#12947a"/>
<rect x="1119.8" y="239.2" width="1.6" height="16.2" fill="#ee1a48"/><rect x="1115.2" y="247.5" width="10.7" height="6.5" fill="#ee1a48"/>
<rect x="1134.9" y="252.2" width="1.6" height="15.7" fill="#ee1a48"/><rect x="1130.4" y="253.0" width="10.7" height="4.5" fill="#ee1a48"/>
<rect x="1150.0" y="247.4" width="1.6" height="14.0" fill="#12947a"/><rect x="1145.5" y="253.3" width="10.7" height="3.1" fill="#12947a"/>
<rect x="1165.1" y="245.0" width="1.6" height="34.7" fill="#ee1a48"/><rect x="1160.6" y="253.3" width="10.7" height="25.3" fill="#ee1a48"/>
<rect x="1180.3" y="260.3" width="1.6" height="30.3" fill="#12947a"/><rect x="1175.7" y="270.0" width="10.7" height="8.6" fill="#12947a"/>

<g>
<circle cx="1180.9" cy="760.7" r="14.3" fill="#fff" stroke="#6d4ef2" stroke-width="2.2"/>
<path d="M1180.9,753.3 Q1182,759.6 1188.3,760.7 Q1182,761.8 1180.9,768.1 Q1179.8,761.8 1173.5,760.7 Q1179.8,759.6 1180.9,753.3 Z" fill="#6d4ef2"/>
<path d="M1189.5,786.5 A14.3,14.3 0 1 0 1194.5,794.5" fill="#fff" stroke="#7a2aa6" stroke-width="2.2"/>
<circle cx="1191.5" cy="788" r="3.6" fill="#e8203c"/>
<path d="M1185.6,791.2 L1176.8,799.2 L1184.2,798.6 L1176.2,806.2" fill="none" stroke="#7a2aa6" stroke-width="2" stroke-linejoin="round" stroke-linecap="round"/>
<defs><clipPath id="fc"><circle cx="0" cy="0" r="11.8"/></clipPath></defs>
<g transform="translate(1179.4,836.5)"><circle cx="0" cy="0" r="14.6" fill="#fff" stroke="#df2f44" stroke-width="2.6"/>
<g clip-path="url(#fc)">
<rect x="-12" y="-12" width="24" height="24" fill="#fff"/>
<rect x="-12" y="-9.2" width="24" height="3.3" fill="#e23b48"/>
<rect x="-12" y="-2.6" width="24" height="3.3" fill="#e23b48"/>
<rect x="-12" y="4.8" width="24" height="7.5" fill="#e23b48"/>
<rect x="-12" y="2.6" width="24" height="2.2" fill="#fff"/>
<rect x="-12" y="-12" width="13.2" height="13.3" fill="#3a6fd0"/>
<g fill="#dfe8ff"><circle cx="-7.5" cy="-8" r="0.9"/><circle cx="-3.7" cy="-8" r="0.9"/><circle cx="-0.2" cy="-8" r="0.9"/><circle cx="-7.5" cy="-4.5" r="0.9"/><circle cx="-3.7" cy="-4.5" r="0.9"/><circle cx="-0.2" cy="-4.5" r="0.9"/><circle cx="-7.5" cy="-1" r="0.9"/><circle cx="-3.7" cy="-1" r="0.9"/><circle cx="-0.2" cy="-1" r="0.9"/></g>
</g></g>
<g transform="translate(1210.9,836.5)"><circle cx="0" cy="0" r="14.6" fill="#fff" stroke="#df2f44" stroke-width="2.6"/>
<g clip-path="url(#fc)">
<rect x="-12" y="-12" width="24" height="24" fill="#fff"/>
<rect x="-12" y="-9.2" width="24" height="3.3" fill="#e23b48"/>
<rect x="-12" y="-2.6" width="24" height="3.3" fill="#e23b48"/>
<rect x="-12" y="4.8" width="24" height="7.5" fill="#e23b48"/>
<rect x="-12" y="2.6" width="24" height="2.2" fill="#fff"/>
<rect x="-12" y="-12" width="13.2" height="13.3" fill="#3a6fd0"/>
<g fill="#dfe8ff"><circle cx="-7.5" cy="-8" r="0.9"/><circle cx="-3.7" cy="-8" r="0.9"/><circle cx="-0.2" cy="-8" r="0.9"/><circle cx="-7.5" cy="-4.5" r="0.9"/><circle cx="-3.7" cy="-4.5" r="0.9"/><circle cx="-0.2" cy="-4.5" r="0.9"/><circle cx="-7.5" cy="-1" r="0.9"/><circle cx="-3.7" cy="-1" r="0.9"/><circle cx="-0.2" cy="-1" r="0.9"/></g>
</g></g>
<g transform="translate(1270.9,836.5)"><circle cx="0" cy="0" r="14.6" fill="#fff" stroke="#df2f44" stroke-width="2.6"/>
<g clip-path="url(#fc)">
<rect x="-12" y="-12" width="24" height="24" fill="#fff"/>
<rect x="-12" y="-9.2" width="24" height="3.3" fill="#e23b48"/>
<rect x="-12" y="-2.6" width="24" height="3.3" fill="#e23b48"/>
<rect x="-12" y="4.8" width="24" height="7.5" fill="#e23b48"/>
<rect x="-12" y="2.6" width="24" height="2.2" fill="#fff"/>
<rect x="-12" y="-12" width="13.2" height="13.3" fill="#3a6fd0"/>
<g fill="#dfe8ff"><circle cx="-7.5" cy="-8" r="0.9"/><circle cx="-3.7" cy="-8" r="0.9"/><circle cx="-0.2" cy="-8" r="0.9"/><circle cx="-7.5" cy="-4.5" r="0.9"/><circle cx="-3.7" cy="-4.5" r="0.9"/><circle cx="-0.2" cy="-4.5" r="0.9"/><circle cx="-7.5" cy="-1" r="0.9"/><circle cx="-3.7" cy="-1" r="0.9"/><circle cx="-0.2" cy="-1" r="0.9"/></g>
</g></g>

</g>
<line x1="5" x2="1453" y1="270" y2="270" stroke="#1e7a63" stroke-width="1.1" stroke-dasharray="1.1 2.45"/>
<g stroke="#111" stroke-width="2.3" stroke-linecap="round" fill="none">
<line x1="1194.3" y1="303.8" x2="1301.3" y2="476.5"/>
<polyline points="1190.7,326.2 1194.3,303.8 1216.7,310.4"/>
</g>
<g>
<polygon points="23.3,812.2 68.9,812.2 60.8,835.4 32.9,835.4 32.9,821.4 23.3,821.4" fill="#fff" stroke="#fff" stroke-width="6" stroke-linejoin="round"/>
<path d="M23.3,812.2 L41.8,812.2 L41.8,835.4 L32.9,835.4 L32.9,821.4 L23.3,821.4 Z M58.7,812.2 L68.9,812.2 L60.8,835.4 L50.1,835.4 Z" fill="#131722"/>
<circle cx="49.6" cy="816.9" r="4.6" fill="#131722"/>
</g>
</g>
</svg>
<div class="ax" style="top:1.4px">4.50000</div>
<div class="ax" style="top:47.5px">4.00000</div>
<div class="ax" style="top:111.3px">3.40000</div>
<div class="ax" style="top:160.3px">3.00000</div>
<div class="ax" style="top:405.9px">1.60000</div>
<div class="ax" style="top:458.3px">1.40000</div>
<div class="ax" style="top:518.5px">1.20000</div>
<div class="ax" style="top:570.8px">1.05000</div>
<div class="ax" style="top:631.2px">0.90000</div>
<div class="ax" style="top:676.8px">0.80000</div>
<div class="ax" style="top:728.8px">0.70000</div>
<div class="ax" style="top:776.3px">0.62000</div>
<div class="ax" style="top:822.8px">0.55000</div>

<div class="tag" style="top:184.6px;height:24.0px;width:94.5px;background:#ff8c2e;color:#1a1a1a"><div class="tl" style="top:2.8px">2.34175</div></div>
<div class="tag" style="top:210.5px;height:46.8px;width:100px;background:#1e8c6f;color:#e8f5f0"><div class="tl" style="top:3.8px;right:12.5px">2.31715</div><div class="tl" style="top:24.8px;right:7px;opacity:.8">05:14:53</div></div>
<div class="tag" style="top:258.6px;height:23.2px;width:94.5px;background:#000000;color:#ffffff"><div class="tl" style="top:2.4px">2.31715</div></div>
<div class="tag" style="top:283.0px;height:25.0px;width:94.5px;background:#a5d6a7;color:#1a1a1a"><div class="tl" style="top:3.3px">2.29979</div></div>
<div class="tag" style="top:309.0px;height:25.5px;width:94.5px;background:#26b5d8;color:#1a1a1a"><div class="tl" style="top:3.6px">2.25782</div></div>
<div class="tag" style="top:336.0px;height:24.0px;width:94.5px;background:#1f8c6e;color:#e8f5f0"><div class="tl" style="top:2.8px">2.15179</div></div>
<div class="tag" style="top:362.0px;height:25.7px;width:94.5px;background:#ef8b94;color:#1a1a1a"><div class="tl" style="top:3.6px">1.98113</div></div>
<div class="tag" style="top:461.3px;height:26.0px;width:94.5px;background:#2962ff;color:#ffffff"><div class="tl" style="top:3.8px">1.37553</div></div>
<div class="tag" style="top:599.9px;height:26.4px;width:94.5px;background:#7e0a8c;color:#ffffff"><div class="tl" style="top:4.0px">0.96442</div></div>


<svg width="1566" height="160" style="position:absolute;left:0;top:0">
<circle cx="8.6" cy="22.8" r="15.9" fill="#363636"/>
<path d="M4.3,17.6 L15.3,28.4 M15.3,17.6 L4.3,28.4" stroke="#fff" stroke-width="1.6"/>
<circle cx="33.2" cy="27" r="13.6" fill="#101114"/>
<path d="M25.5,19.3 C28.5,22.5 30,25 32.2,25 C34.4,25 36,22.5 39.8,19.3 M24.8,34.6 C28.5,31.5 30,29 32.2,29 C34.4,29 36,31.5 40,34.6" stroke="#fff" stroke-width="1.9" fill="none" stroke-linecap="round"/>
<circle cx="456.5" cy="27.5" r="12.5" fill="#dff0ea"/>
<circle cx="456.5" cy="27.5" r="6.2" fill="#1b9274"/>
<circle cx="1561" cy="23.1" r="15.8" fill="#3a3a3a"/>
<path d="M1555,17 L1560.5,23 L1555,29 M1560,17 L1565.5,23 L1560,29" stroke="#fff" stroke-width="1.5" fill="none"/>
<rect x="17.6" y="52.6" width="110.6" height="50.8" rx="6.5" fill="#fff" stroke="#e05a6e" stroke-width="1.3"/>
<rect x="217.8" y="52.6" width="109.8" height="50.8" rx="6.5" fill="#fff" stroke="#4a6fd8" stroke-width="1.3"/>
<rect x="19.8" y="113.8" width="48.6" height="29.5" rx="4.5" fill="#fff" stroke="#d9dade" stroke-width="1.3"/>
<path d="M28.4,125.6 L34.3,130.8 L40.2,125.6" stroke="#1d1f24" stroke-width="2" fill="none"/>
</svg>
<div class="t" style="left:52.6px;top:18.2px;font-size:23.5px;color:#131722">XRP / U.S. Dollar · 1D · BITSTAMP</div>
<div class="t" style="left:495px;top:17.6px;font-size:20.4px;color:#2a2e39">O</div>
<div class="t g" style="left:512.5px;top:17.6px;font-size:20.4px;letter-spacing:0.75px">2.27151</div>
<div class="t" style="left:601px;top:17.6px;font-size:20.4px;color:#2a2e39">H</div>
<div class="t g" style="left:618px;top:17.6px;font-size:20.4px;letter-spacing:0.75px">2.37595</div>
<div class="t" style="left:707px;top:17.6px;font-size:20.4px;color:#2a2e39">L</div>
<div class="t g" style="left:719.4px;top:17.6px;font-size:20.4px;letter-spacing:0.75px">2.20000</div>
<div class="t" style="left:808.5px;top:17.6px;font-size:20.4px;color:#2a2e39">C</div>
<div class="t g" style="left:824.8px;top:17.6px;font-size:20.4px;letter-spacing:0.75px">2.31715</div>
<div class="t g" style="left:913.6px;top:17.6px;font-size:20.4px;letter-spacing:0.75px">+0.04673</div>
<div class="t g" style="left:1012.8px;top:17.6px;font-size:20.4px;letter-spacing:0.45px">(+2.06%)</div>
<div class="t" style="left:34.6px;top:60.8px;font-size:17.2px;font-weight:bold;letter-spacing:0.9px;color:#dc3450;transform:scaleX(1.16);transform-origin:0 0">2.31696</div>
<div class="t" style="left:234.2px;top:60.8px;font-size:17.2px;font-weight:bold;letter-spacing:0.9px;color:#3a62dc;transform:scaleX(1.16);transform-origin:0 0">2.31703</div>
<div class="t" style="left:51.5px;top:82.6px;font-size:16px;letter-spacing:0.9px;color:#dc4a62">SELL</div>
<div class="t" style="left:253.8px;top:82.6px;font-size:16px;letter-spacing:1.1px;color:#4a6ad8">BUY</div>
<div class="t" style="left:141px;top:72px;font-size:15.8px;letter-spacing:0.9px;color:#3b3d45">0.00007</div>
<div class="t" style="left:49px;top:117.4px;font-size:20.4px;color:#2a2e39">7</div>

</body></html>
